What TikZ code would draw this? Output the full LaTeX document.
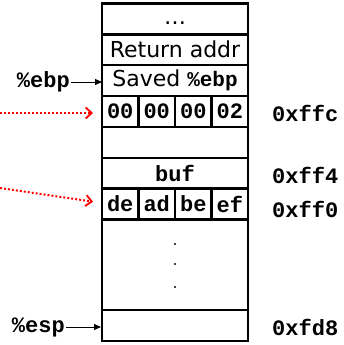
\documentclass[tikz,border=0pt]{standalone}
\usepackage{fontspec}
\setmainfont{DejaVu Sans}
\setmonofont{Liberation Mono}
\usetikzlibrary{arrows.meta}
\begin{document}
\begin{tikzpicture}[x=1pt,y=-1pt,
  cell/.style={draw,line width=2.2pt,inner sep=0pt,outer sep=0pt,minimum width=146pt,minimum height=31pt,font=\fontsize{22}{22}\selectfont},
  bytecell/.style={draw,line width=2.2pt,inner sep=0pt,outer sep=0pt,minimum width=36.5pt,minimum height=31pt,font=\fontsize{22}{22}\selectfont\ttfamily\bfseries},
  lbl/.style={inner sep=1pt,font=\fontsize{22}{22}\selectfont\ttfamily\bfseries},
  ptr/.style={-{Triangle[length=7pt,width=6pt]},line width=0.9pt},
  redptr/.style={-{Straight Barb[length=6pt,width=11pt,line width=1.8pt]},red,dotted,line width=2pt},
  dotm/.style={circle,fill,inner sep=0pt,minimum size=2.4pt}]
\useasboundingbox (0,0) rectangle (343,345);
\node[cell] (top) at (175,19) {\smash{\raisebox{-6pt}{\ldots}}};
\node[cell] (ret) at (175,49.5) {Return addr};
\node[cell] (saved) at (175,80.5) {Saved \texttt{\bfseries\fontsize{21}{21}\selectfont \%ebp}};
\node[bytecell] (b1) at (120.25,111.5) {00};
\node[bytecell] (b2) at (156.75,111.5) {00};
\node[bytecell] (b3) at (193.25,111.5) {00};
\node[bytecell] (b4) at (229.75,111.5) {02};
\node[cell] (empty) at (175,142.5) {};
\node[cell,font=\fontsize{22}{22}\selectfont\ttfamily\bfseries] (buf) at (175,173.5) {buf};
\node[bytecell] (d1) at (120.25,204) {de};
\node[bytecell] (d2) at (156.75,204) {ad};
\node[bytecell] (d3) at (193.25,204) {be};
\node[bytecell] (d4) at (229.75,204) {ef};
\node[cell,minimum height=91pt] (gap) at (175,264.5) {};
\node[cell] (last) at (175,325.5) {};
\node[dotm] (g1) at (175,244) {};
\node[dotm] (g2) at (175,264) {};
\node[dotm] (g3) at (175,287) {};
\node[lbl,anchor=east] (ebp) at (71,82) {\%ebp};
\node[lbl,anchor=east] (esp) at (66,327) {\%esp};
\draw[ptr] (ebp.east) -- (ebp.east -| saved.west);
\draw[ptr] (esp.east) -- ([xshift=-1pt]esp.east -| last.west);
\node[lbl,anchor=west] (a1) at (271,113) {0xffc};
\node[lbl,anchor=west] (a2) at (271,175) {0xff4};
\node[lbl,anchor=west] (a3) at (271,209) {0xff0};
\node[lbl,anchor=west] (a4) at (271,327) {0xfd8};
\coordinate (r1) at (0,113);
\coordinate (r2) at (0,188);
\draw[redptr,shorten >=9pt] (r1) -- (b1.west |- r1);
\draw[redptr,shorten >=9pt] (r2) -- ([yshift=1pt]d1.west);
\end{tikzpicture}
\end{document}
